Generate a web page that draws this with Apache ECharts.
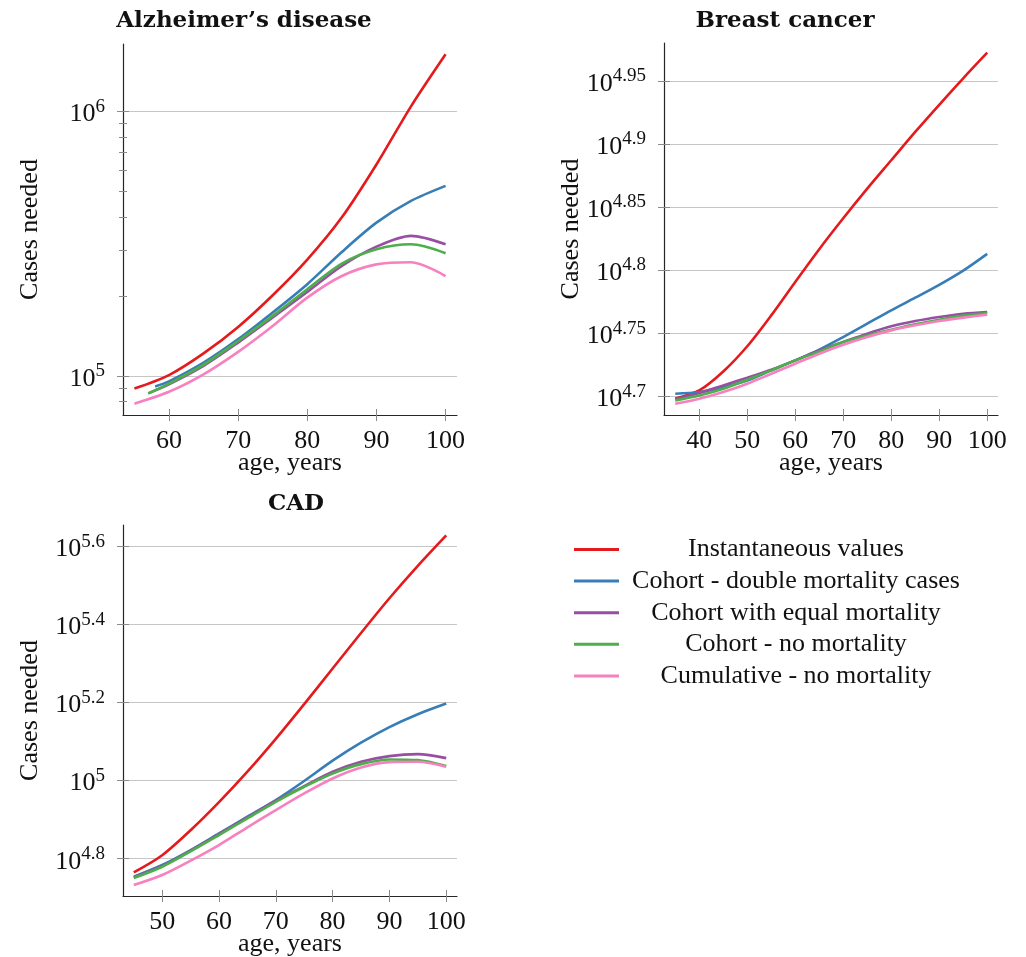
<!DOCTYPE html>
<html>
<head>
<meta charset="utf-8">
<script src="https://cdn.jsdelivr.net/npm/echarts@6/dist/echarts.min.js"></script>
<style>
html,body{margin:0;padding:0;background:#ffffff;}
#chart{width:1026px;height:957px;}
</style>
</head>
<body>
<div id="chart"></div>
<script>
// ---------- Series names / colours ----------
const seriesNames = [
  'Instantaneous values',
  'Cohort - double mortality cases',
  'Cohort with equal mortality',
  'Cohort - no mortality',
  'Cumulative - no mortality'
];
const seriesColors = ['#e41a1c', '#377eb8', '#984ea3', '#4daf4a', '#f781bf'];

// ---------- Alzheimer's disease: log10(cases needed) ----------
const alzAges55 = [55, 60, 65, 70, 75, 80, 85, 90, 95, 100];
const alzAges57 = [57, 60, 65, 70, 75, 80, 85, 90, 95, 100];
const alzAges58 = [58, 60, 65, 70, 75, 80, 85, 90, 95, 100];
const alzInstantaneous = [4.952, 5.003, 5.085, 5.185, 5.305, 5.440, 5.600, 5.800, 6.020, 6.217];
const alzDoubleMort    = [4.960, 4.979, 5.050, 5.139, 5.240, 5.347, 5.469, 5.580, 5.662, 5.719];
const alzEqualMort     = [4.934, 4.968, 5.038, 5.126, 5.221, 5.318, 5.416, 5.489, 5.530, 5.498];
const alzNoMort        = [4.934, 4.971, 5.043, 5.132, 5.227, 5.328, 5.425, 5.479, 5.498, 5.464];
const alzCumulative    = [4.895, 4.940, 5.006, 5.091, 5.189, 5.296, 5.378, 5.422, 5.430, 5.378];

// ---------- Breast cancer: log10(cases needed) ----------
const brAges = [35, 40, 45, 50, 55, 60, 65, 70, 75, 80, 85, 90, 95, 100];
const brInstantaneous = [4.698, 4.7045, 4.7195, 4.7395, 4.764, 4.7905, 4.8165, 4.841, 4.8645, 4.887, 4.9095, 4.931, 4.952, 4.9723];
const brDoubleMort    = [4.7019, 4.7032, 4.7071, 4.7124, 4.7204, 4.7283, 4.7368, 4.7468, 4.7574, 4.768, 4.778, 4.7882, 4.7995, 4.8128];
const brEqualMort     = [4.6974, 4.7024, 4.7085, 4.7146, 4.7209, 4.7283, 4.7362, 4.7429, 4.7495, 4.7553, 4.7595, 4.7627, 4.7653, 4.7667];
const brNoMort        = [4.6966, 4.7005, 4.7058, 4.713, 4.7204, 4.7283, 4.7354, 4.7429, 4.7481, 4.7526, 4.7569, 4.7606, 4.7638, 4.7659];
const brCumulative    = [4.6939, 4.6979, 4.7032, 4.7098, 4.7177, 4.7257, 4.7336, 4.7407, 4.7468, 4.7521, 4.7561, 4.7595, 4.7622, 4.7646];

// ---------- CAD: log10(cases needed) ----------
const cadAges = [45, 50, 55, 60, 65, 70, 75, 80, 85, 90, 95, 100];
const cadInstantaneous = [4.765, 4.809, 4.873, 4.945, 5.023, 5.107, 5.196, 5.287, 5.378, 5.467, 5.550, 5.628];
const cadDoubleMort    = [4.7539, 4.7838, 4.8222, 4.8648, 4.9075, 4.9501, 4.999, 5.051, 5.097, 5.137, 5.170, 5.1974];
const cadEqualMort     = [4.7522, 4.7812, 4.8205, 4.8631, 4.9058, 4.9484, 4.9859, 5.0226, 5.0482, 5.0627, 5.0678, 5.0576];
const cadNoMort        = [4.7505, 4.7795, 4.8188, 4.8606, 4.9032, 4.9458, 4.9842, 5.0183, 5.0422, 5.0542, 5.0525, 5.0371];
const cadCumulative    = [4.7326, 4.7582, 4.7949, 4.835, 4.8802, 4.9245, 4.9672, 5.0055, 5.0337, 5.0473, 5.0482, 5.0354];

// ---------- Tick values ----------
const alzXTicks = [60, 70, 80, 90, 100];
const brXTicks  = [40, 50, 60, 70, 80, 90, 100];
const cadXTicks = [50, 60, 70, 80, 90, 100];
const alzYTicks = [5, 6];                       // exponents of 10
const alzYMinorValues = [8e4, 9e4, 2e5, 3e5, 4e5, 5e5, 6e5, 7e5, 8e5, 9e5];
const brYTicks  = [4.7, 4.75, 4.8, 4.85, 4.9, 4.95];
const cadYTicks = [4.8, 5, 5.2, 5.4, 5.6];

// ---------- Titles ----------
const panelTitles = ['Alzheimer\u2019s disease', 'Breast cancer', 'CAD'];
const xAxisTitle = 'age, years';
const yAxisTitle = 'Cases needed';

// ---------- Styling helpers ----------
const FONT = '"Liberation Serif", "Times New Roman", serif';
const TITLE_FONT = '"DejaVu Serif", "Liberation Serif", serif';
const AXIS_COLOR = '#262626';
const TICK_COLOR = '#8a8a8a';
const GRID_COLOR = '#c6c6c6';
const TEXT_COLOR = '#111111';

function expLabel(v) {
  const s = String(Math.round(v * 100) / 100);
  return '{b|10}{s|' + s + '}';
}

// tick-only axis that crosses the axis line (shifted inward, ticks pointing outward)
function crossTickAxis(base, ticks, half) {
  return Object.assign({}, base, {
    offset: -half,
    axisLine: { show: false, onZero: false },
    splitLine: { show: false },
    axisTick: { show: true, inside: false, length: 2 * half, customValues: ticks, lineStyle: { color: TICK_COLOR, width: 1 } },
    axisLabel: { show: false }
  });
}

function makeXAxes(gi, min, max, ticks) {
  const base = { type: 'value', gridIndex: gi, min: min, max: max, position: 'bottom', splitLine: { show: false } };
  return [
    Object.assign({}, base, {
      axisLine: { show: true, onZero: false, lineStyle: { color: AXIS_COLOR, width: 1.2 } },
      axisTick: { show: false, customValues: ticks },
      axisLabel: { show: true, customValues: ticks, margin: 13, fontSize: 26, fontFamily: FONT, color: TEXT_COLOR },
      name: xAxisTitle, nameLocation: 'middle', nameGap: 35, nameMoveOverlap: false,
      nameTextStyle: { fontSize: 26, fontFamily: FONT, color: TEXT_COLOR }
    }),
    crossTickAxis(base, ticks, 6)
  ];
}

function makeYAxes(gi, min, max, ticks, minorTicks) {
  const base = { type: 'value', gridIndex: gi, min: min, max: max, position: 'left' };
  const axes = [
    Object.assign({}, base, {
      axisLine: { show: true, onZero: false, lineStyle: { color: AXIS_COLOR, width: 1.2 } },
      axisTick: { show: false, customValues: ticks },
      splitLine: { show: true, lineStyle: { color: GRID_COLOR, width: 1 } },
      axisLabel: {
        show: true, customValues: ticks, margin: 18, formatter: expLabel,
        padding: [6, 0, 0, 0],
        rich: {
          b: { fontSize: 26, fontFamily: FONT, color: TEXT_COLOR, lineHeight: 34 },
          s: { fontSize: 19, fontFamily: FONT, color: TEXT_COLOR, lineHeight: 17, verticalAlign: 'top' }
        }
      },
      name: yAxisTitle, nameLocation: 'middle', nameGap: 80, nameMoveOverlap: false,
      nameTextStyle: { fontSize: 26, fontFamily: FONT, color: TEXT_COLOR }
    }),
    crossTickAxis(base, ticks, 6)
  ];
  if (minorTicks) axes.push(crossTickAxis(base, minorTicks, 4));
  return axes;
}

function zip(ages, vals) { return ages.map((a, i) => [a, vals[i]]); }

function makeSeries(xi, yi, list) {
  return list.map((d, k) => ({
    type: 'line', name: seriesNames[k], xAxisIndex: xi, yAxisIndex: yi,
    data: zip(d[0], d[1]), smooth: 0.3, symbol: 'none', showSymbol: false,
    color: seriesColors[k],
    lineStyle: { color: seriesColors[k], width: 2.6 },
    itemStyle: { color: seriesColors[k] },
    animation: false
  }));
}

// ---------- Build ----------
const alzMinor = alzYMinorValues.map(v => Math.log10(v));

const xAxes = [].concat(
  makeXAxes(0, 53.35, 101.65, alzXTicks),   // 0,1
  makeXAxes(1, 32.65, 102.25, brXTicks),    // 2,3
  makeXAxes(2, 43.1, 101.9, cadXTicks)      // 4,5
);
const yAxes = [].concat(
  makeYAxes(0, 4.852, 6.256, alzYTicks, alzMinor), // 0,1,2
  makeYAxes(1, 4.685, 4.980, brYTicks),            // 3,4
  makeYAxes(2, 4.7045, 5.6546, cadYTicks)          // 5,6
);

const series = [].concat(
  makeSeries(0, 0, [
    [alzAges55, alzInstantaneous], [alzAges58, alzDoubleMort], [alzAges57, alzEqualMort],
    [alzAges57, alzNoMort], [alzAges55, alzCumulative]
  ]),
  makeSeries(2, 3, [
    [brAges, brInstantaneous], [brAges, brDoubleMort], [brAges, brEqualMort],
    [brAges, brNoMort], [brAges, brCumulative]
  ]),
  makeSeries(4, 5, [
    [cadAges, cadInstantaneous], [cadAges, cadDoubleMort], [cadAges, cadEqualMort],
    [cadAges, cadNoMort], [cadAges, cadCumulative]
  ])
);

const titlePos = [[244, 21], [785, 21], [296, 504]];
const graphics = panelTitles.map((t, i) => ({
  type: 'text', x: titlePos[i][0], y: titlePos[i][1], silent: true,
  style: {
    text: t, font: 'bold 23px ' + TITLE_FONT, fill: TEXT_COLOR,
    align: 'center', verticalAlign: 'middle', textAlign: 'center', textVerticalAlign: 'middle'
  }
}));

const option = {
  backgroundColor: '#ffffff',
  animation: false,
  color: seriesColors,
  textStyle: { fontFamily: FONT },
  grid: [
    { left: 123, top: 44, width: 334, height: 371, outerBoundsMode: 'none', containLabel: false },
    { left: 664, top: 43, width: 334, height: 372, outerBoundsMode: 'none', containLabel: false },
    { left: 123, top: 525, width: 334, height: 371, outerBoundsMode: 'none', containLabel: false }
  ],
  xAxis: xAxes,
  yAxis: yAxes,
  legend: {
    data: seriesNames,
    orient: 'vertical', left: 574, top: 536.5, padding: 0, itemGap: 5.6,
    itemWidth: 45, itemHeight: 3, icon: 'rect', itemTextGap: 5,
    selectedMode: false,
    formatter: '{a|{name}}',
    textStyle: {
      fontFamily: FONT, fontSize: 26, color: TEXT_COLOR,
      rich: { a: { width: 344, align: 'center', fontFamily: FONT, fontSize: 26, color: TEXT_COLOR } }
    }
  },
  graphic: graphics,
  series: series
};

const chart = echarts.init(document.getElementById('chart'), null, { renderer: 'canvas' });
chart.setOption(option);
</script>
</body>
</html>
